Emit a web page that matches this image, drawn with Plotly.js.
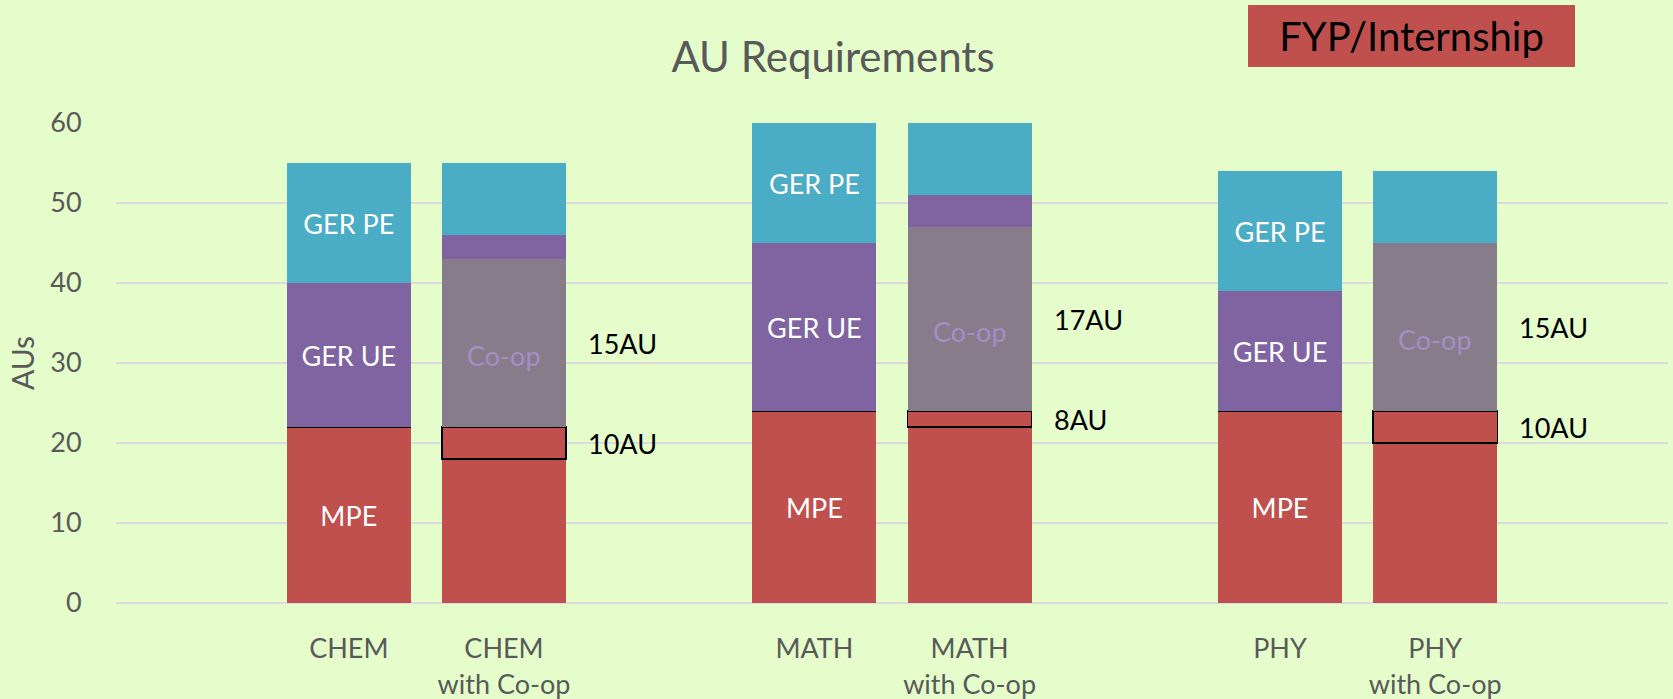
<!DOCTYPE html>
<html>
<head>
<meta charset="utf-8">
<script src="https://cdn.plot.ly/plotly-3.0.1.min.js"></script>
<style>
  html, body { margin: 0; padding: 0; background: #E4FDCB; }
  #chart { width: 1673px; height: 699px; }
</style>
</head>
<body>
<div id="chart"></div>
<script>
// ---- data ----
const categories = ["CHEM", "CHEM<br>with Co-op", "MATH", "MATH<br>with Co-op", "PHY", "PHY<br>with Co-op"];
const axisCategories = [" ", "CHEM", "CHEM<br>with Co-op", "  ", "MATH", "MATH<br>with Co-op", "   ", "PHY", "PHY<br>with Co-op", "    "];

const mpe    = [22, 18, 24, 22, 24, 20];
const fyp    = [0, 4, 0, 2, 0, 4];
const coop   = [0, 21, 0, 23, 0, 21];
const gerUE  = [18, 3, 21, 4, 15, 0];
const gerPE  = [15, 9, 15, 9, 15, 9];

const mpeLabels   = ["MPE", "", "MPE", "", "MPE", ""];
const coopLabels  = ["", "Co-op", "", "Co-op", "", "Co-op"];
const gerUELabels = ["GER UE", "", "GER UE", "", "GER UE", ""];
const gerPELabels = ["GER PE", "", "GER PE", "", "GER PE", ""];

const coopAU = [null, 15, null, 17, null, 15];
const fypAU  = [null, 10, null, 8, null, 10];

const yTicks = [0, 10, 20, 30, 40, 50, 60];

// ---- styles ----
const FONT = "Lato, 'Open Sans', sans-serif";
const RED = "#C0504D", PURPLE = "#8064A2", BLUE = "#4BACC6", COOP = "#877C89";
const inFont = { family: FONT, size: 27, color: "#FFFFFF" };

function barTrace(name, values, color, labels, extra) {
  return Object.assign({
    type: "bar",
    name: name,
    x: categories,
    y: values,
    text: labels,
    texttemplate: "%{text}",
    textposition: labels ? "inside" : "none",
    insidetextanchor: "middle",
    textangle: 0,
    constraintext: "none",
    insidetextfont: inFont,
    marker: { color: color, line: { width: 0 } },
    hoverinfo: "x+y+name"
  }, extra || {});
}

const traces = [
  barTrace("MPE", mpe, RED, mpeLabels),
  barTrace("FYP/Internship", fyp, RED, null, { marker: { color: RED, line: { color: "#000000", width: 1.5 } } }),
  barTrace("Co-op", coop, COOP, null),
  barTrace("GER UE", gerUE, PURPLE, gerUELabels),
  barTrace("GER PE", gerPE, BLUE, gerPELabels)
];

// annotations derived from data
const annotations = [];
categories.forEach((c, i) => {
  const base = mpe[i] + fyp[i];
  if (coopLabels[i]) {
    annotations.push({
      x: c, y: base + coop[i] / 2, xref: "x", yref: "y",
      text: coopLabels[i], showarrow: false,
      xanchor: "center", yanchor: "middle", yshift: -12,
      font: { family: FONT, size: 27, color: "#A28FC6" }
    });
  }
  if (coopAU[i] !== null) {
    annotations.push({
      x: c, y: base + coop[i] / 2, xref: "x", yref: "y",
      text: coopAU[i] + "AU", showarrow: false,
      xanchor: "left", yanchor: "middle", xshift: 82,
      font: { family: FONT, size: 27, color: "#000000" }
    });
  }
  if (fypAU[i] !== null) {
    annotations.push({
      x: c, y: mpe[i] + fyp[i] / 2, xref: "x", yref: "y",
      text: fypAU[i] + "AU", showarrow: false,
      xanchor: "left", yanchor: "middle", xshift: 82,
      font: { family: FONT, size: 27, color: "#000000" }
    });
  }
});

// legend-like box
annotations.push({
  x: 0.8347, y: 1.1806, xref: "paper", yref: "paper",
  text: "FYP/Internship", showarrow: false,
  xanchor: "center", yanchor: "middle",
  width: 327, height: 62, borderpad: 0, borderwidth: 0,
  bgcolor: RED,
  font: { family: FONT, size: 40, color: "#000000" }
});

const layout = {
  width: 1673, height: 699,
  paper_bgcolor: "#E4FDCB",
  plot_bgcolor: "#E4FDCB",
  margin: { l: 116, r: 5, t: 123, b: 96 },
  barmode: "stack",
  bargap: 0.2,
  showlegend: false,
  title: {
    text: "AU Requirements",
    font: { family: FONT, size: 42, color: "#595959" },
    x: 833 / 1673, xref: "container", xanchor: "center",
    y: 1 - 57 / 699, yref: "container", yanchor: "middle"
  },
  xaxis: {
    type: "category",
    categoryorder: "array",
    categoryarray: axisCategories,
    range: [-0.5, 9.5],
    showgrid: false,
    zeroline: false,
    showline: false,
    ticks: "outside",
    ticklen: 22,
    tickcolor: "rgba(0,0,0,0)",
    tickfont: { family: FONT, size: 27, color: "#595959" },
    fixedrange: true
  },
  yaxis: {
    range: [0, 60],
    tickvals: yTicks,
    showgrid: true,
    gridcolor: "#DDD9DD",
    gridwidth: 2,
    zeroline: true,
    zerolinecolor: "#DDD9DD",
    zerolinewidth: 2,
    showline: false,
    ticks: "outside",
    ticklen: 28,
    tickcolor: "rgba(0,0,0,0)",
    tickfont: { family: FONT, size: 27, color: "#595959" },
    title: { text: "AUs", font: { family: FONT, size: 30, color: "#595959" }, standoff: 6 },
    fixedrange: true
  },
  annotations: annotations
};

Plotly.newPlot("chart", traces, layout, { displayModeBar: false, staticPlot: true });
</script>
</body>
</html>
